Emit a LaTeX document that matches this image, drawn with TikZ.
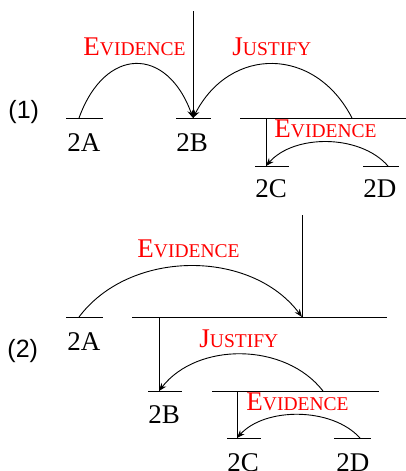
\documentclass[tikz,border=0pt]{standalone}
\usepackage{fontspec}
\setmainfont{Liberation Serif}
\newfontfamily\sansnum{Liberation Sans}
\usetikzlibrary{arrows.meta}
\newcommand\bigfs{\fontsize{27}{27}\selectfont}
\newcommand\smfs{\fontsize{19.5}{19.5}\selectfont}
\newcommand\scword[2]{{\bigfs #1}{\smfs #2}}
\begin{document}
\begin{tikzpicture}[x=1pt,y=-1pt,line width=0.9pt,
  arcline/.style={-{Stealth[length=8pt,width=6pt]}},
  lbl/.style={anchor=base west,inner sep=0pt,font=\bigfs},
  rel/.style={anchor=base west,inner sep=0pt,text=red},
  num/.style={anchor=base west,inner sep=0pt,font=\sansnum\fontsize{25}{25}\selectfont}]
\useasboundingbox (0,0) rectangle (406,471);

% ---------- (1) ----------
\node[num] (n1) at (8,118) {(1)};
\coordinate (top1) at (193,11);
\coordinate (b1) at (193,118);
\coordinate (a1) at (79,118);
\coordinate (j1) at (352,118);
\coordinate (v1t) at (266,118);
\coordinate (c1) at (266,166);
\coordinate (d1) at (388,166);
% bars
\draw (66,118) -- (103,118);
\draw (176,118) -- (211,118);
\draw (240,118) -- (406,118);
\draw (255,166) -- (289,166);
\draw (363,166) -- (399,166);
% verticals
\draw (top1) -- (b1);
\draw (v1t) -- (c1);
% arcs
\draw[arcline] (a1) .. controls +(26,-72) and +(-26,-72) .. (b1);
\draw[arcline] (j1) .. controls +(-37,-72) and +(37,-72) .. (b1);
\draw[arcline] (d1) .. controls +(-28,-32) and +(28,-32) .. (c1);
% labels
\node[rel] (e1a) at (83,55) {\scword{E}{VIDENCE}};
\node[rel] (j1l) at (232,55) {\scword{J}{USTIFY}};
\node[rel] (e1b) at (274,137.5) {\scword{E}{VIDENCE}};
\node[lbl] (l2a1) at (67,151) {2A};
\node[lbl] (l2b1) at (176,151) {2B};
\node[lbl] (l2c1) at (255,197) {2C};
\node[lbl] (l2d1) at (363,197) {2D};

% ---------- (2) ----------
\node[num] (n2) at (7,357) {(2)};
\coordinate (top2) at (302,215);
\coordinate (r2) at (302,317);
\coordinate (a2) at (79,317);
\coordinate (v2t) at (159,317);
\coordinate (b2) at (159,391);
\coordinate (j2) at (323,391);
\coordinate (v3t) at (237,391);
\coordinate (c2) at (237,438);
\coordinate (d2) at (360,438);
% bars
\draw (66,317) -- (103,317);
\draw (132,317) -- (387,317);
\draw (148,391) -- (182,391);
\draw (212,391) -- (379,391);
\draw (227,438) -- (261,438);
\draw (334,438) -- (371,438);
% verticals
\draw (top2) -- (r2);
\draw (v2t) -- (b2);
\draw (v3t) -- (c2);
% arcs
\draw[arcline] (a2) .. controls +(51,-68) and +(-51,-68) .. (r2);
\draw[arcline] (j2) .. controls +(-38,-49) and +(38,-49) .. (b2);
\draw[arcline] (d2) .. controls +(-28,-31) and +(28,-31) .. (c2);
% labels
\node[rel] (e2a) at (137,257) {\scword{E}{VIDENCE}};
\node[rel] (j2l) at (199,347) {\scword{J}{USTIFY}};
\node[rel] (e2b) at (246,410) {\scword{E}{VIDENCE}};
\node[lbl] (l2a2) at (67,350) {2A};
\node[lbl] (l2b2) at (148,423) {2B};
\node[lbl] (l2c2) at (227,471) {2C};
\node[lbl] (l2d2) at (336,471) {2D};
\end{tikzpicture}
\end{document}
